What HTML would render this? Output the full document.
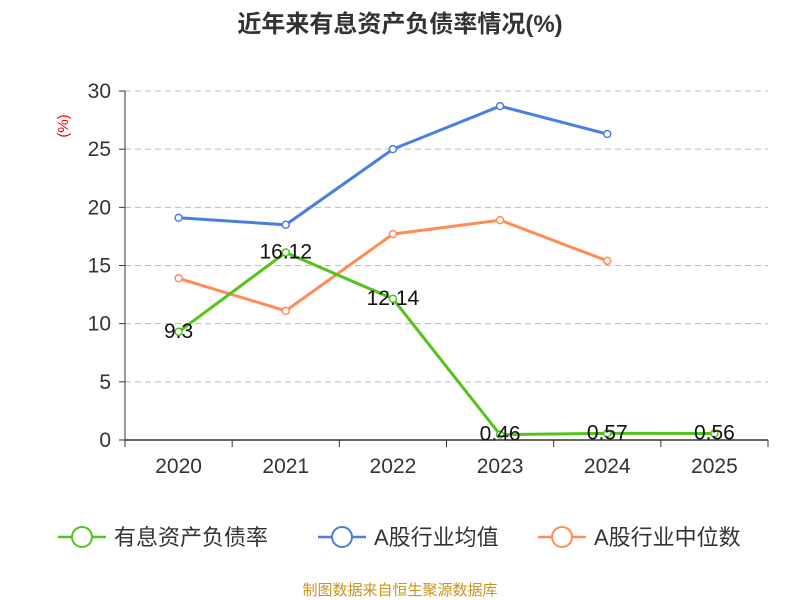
<!DOCTYPE html>
<html><head><meta charset="utf-8"><style>
body{margin:0;background:#fff;}
svg{display:block;font-family:"Liberation Sans","Noto Sans CJK SC",sans-serif;}
</style></head><body>
<svg id="chart" width="800" height="600">
<text x="400" y="32" text-anchor="middle" font-size="24" font-weight="bold" fill="#333">近年来有息资产负债率情况(%)</text>
<text transform="translate(68,126) rotate(-90)" text-anchor="middle" font-size="15" fill="#e00">(%)</text>
<g id="grid"></g><g id="series"></g>
<text x="400" y="595" text-anchor="middle" font-size="15" fill="#c8941e">制图数据来自恒生聚源数据库</text>
</svg>
<script>
const categories=["2020","2021","2022","2023","2024","2025"];
const yTicks=[0,5,10,15,20,25,30];
const debtRatio=[9.3,16.12,12.14,0.46,0.57,0.56];
const industryAvg=[19.1,18.5,25.0,28.7,26.3];
const industryMedian=[13.9,11.1,17.7,18.9,15.4];
const labels=["9.3","16.12","12.14","0.46","0.57","0.56"];
const NS="http://www.w3.org/2000/svg";
const x0=125,x1=768,y0=440,y1=91,yMax=30;
const step=(x1-x0)/categories.length;
const X=i=>x0+step*(i+0.5);
const Y=v=>y0-(v/yMax)*(y0-y1);
function mk(t,a,p){const e=document.createElementNS(NS,t);for(const k in a)e.setAttribute(k,a[k]);p.appendChild(e);return e;}
const g=document.getElementById('grid'),s=document.getElementById('series');
yTicks.forEach(v=>{
 if(v>0){const l=mk('line',{x1:x0,x2:x1,y1:Y(v),y2:Y(v),stroke:'#bbb','stroke-dasharray':'6,4'},g);
 
 }
 const tk=mk('line',{x1:x0-6,x2:x0,y1:Y(v),y2:Y(v),stroke:'#333'},g);
 
 
 const t=mk('text',{x:x0-14,y:Y(v)+7,'text-anchor':'end','font-size':21,fill:'#333'},g);t.textContent=v;
 
 
});
const ya=mk('line',{x1:x0,x2:x0,y1:y1,y2:y0,stroke:'#333'},g);


const xa=mk('line',{x1:x0,x2:x1,y1:y0,y2:y0,stroke:'#333','stroke-width':1.5},g);


for(let i=0;i<=categories.length;i++){const tk=mk('line',{x1:x0+step*i,x2:x0+step*i,y1:y0,y2:y0+7,stroke:'#333'},g);
 
 }
categories.forEach((c,i)=>{const t=mk('text',{x:X(i),y:y0+33,'text-anchor':'middle','font-size':21,fill:'#333'},g);t.textContent=c;
 
 });
function line(data,color,name){
 const pts=data.map((v,i)=>X(i)+','+Y(v)).join(' ');
 const p=mk('polyline',{points:pts,fill:'none',stroke:color,'stroke-width':3},s);
 
 
 data.forEach((v,i)=>{const c=mk('circle',{cx:X(i),cy:Y(v),r:3.5,fill:'#fff',stroke:color,'stroke-width':1.5},s);
  
  });
}
line(industryAvg,'#4a7fe0','industry-avg');
line(industryMedian,'#ff8c55','industry-median');
line(debtRatio,'#52c41a','debt-ratio');
debtRatio.forEach((v,i)=>{const t=mk('text',{x:X(i),y:Y(v)+6,'text-anchor':'middle','font-size':21,fill:'#111'},s);t.textContent=labels[i];
 
 });
const leg=[["有息资产负债率","#52c41a",58],["A股行业均值","#4a7fe0",318],["A股行业中位数","#ff8c55",538]];
leg.forEach(([n,c,x])=>{const gg=mk('g',{},s);
 
 
 mk('line',{x1:x,x2:x+48,y1:537,y2:537,stroke:c,'stroke-width':2.5},gg);
 mk('circle',{cx:x+24,cy:537,r:10,fill:'#fff',stroke:c,'stroke-width':2},gg);
 const t=mk('text',{x:x+56,y:545,'font-size':22,fill:'#333'},gg);t.textContent=n;});
</script>
</body></html>
